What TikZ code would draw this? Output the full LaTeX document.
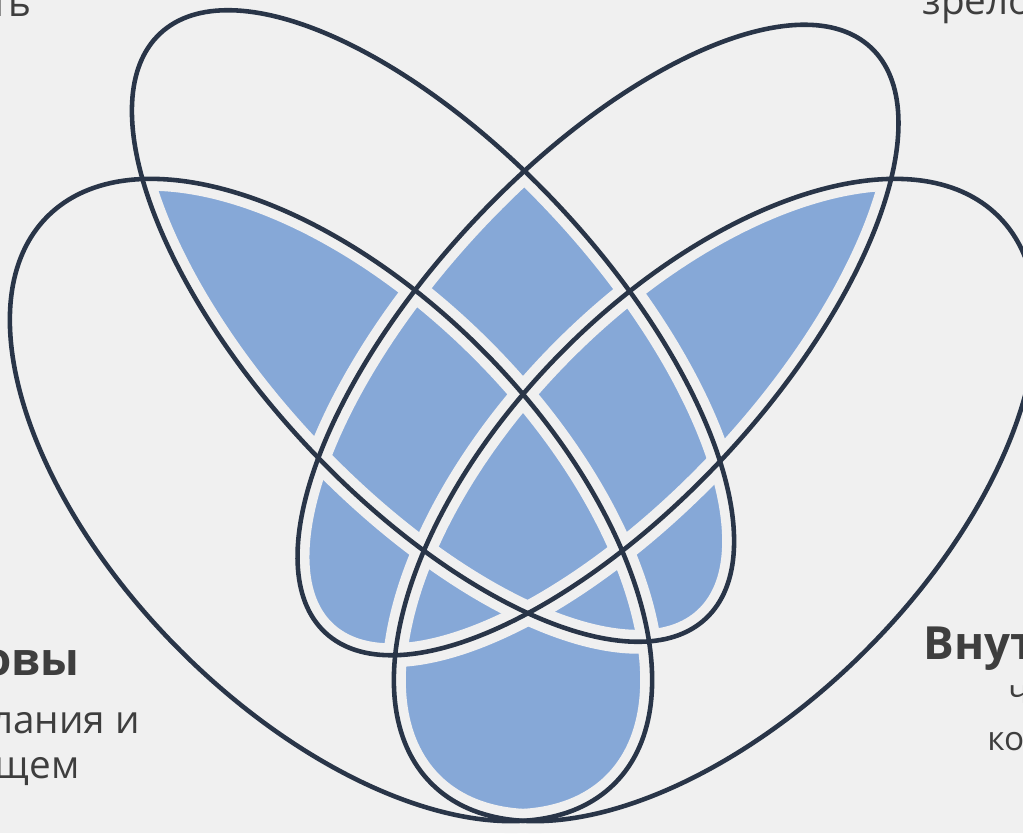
\documentclass[tikz,border=0pt]{standalone}
\usepackage{fontspec}
\setmainfont{Open Sans}
\usepackage{tikz}
\definecolor{paper}{RGB}{240,240,240}
\definecolor{petal}{RGB}{134,168,215}
\definecolor{ink}{RGB}{41,53,72}
\definecolor{caption}{RGB}{62,62,62}
\newcommand{\ovalTL}{(433,507) ellipse [x radius=400, y radius=174, rotate=-47]}
\newcommand{\ovalTR}{(598,493) ellipse [x radius=400, y radius=172, rotate=47]}
\newcommand{\ovalL}{(331,333) ellipse [x radius=401, y radius=213, rotate=-45]}
\newcommand{\ovalR}{(715,333) ellipse [x radius=401, y radius=213, rotate=45]}

\begin{document}
\begin{tikzpicture}[
  x=0.02cm, y=0.02cm,
  gap/.style={draw=paper,line width=13.6pt},
  rim/.style={draw=ink,line width=2.6pt},
  label/.style={inner sep=0pt,text=caption,font=\fontsize{22}{26}\selectfont},
  small/.style={inner sep=0pt,text=caption,font=\fontsize{19}{23}\selectfont},
  title/.style={inner sep=0pt,text=caption,font=\fontsize{26}{31}\selectfont\bfseries}
]
\useasboundingbox (0,0) rectangle (1023,833);
\fill[paper] (0,0) rectangle (1023,833);
\clip (0,0) rectangle (1023,833);
% overlaps of two or more sets
\begin{scope}\clip \ovalTL; \fill[petal] \ovalTR; \end{scope}
\begin{scope}\clip \ovalTL; \fill[petal] \ovalL; \end{scope}
\begin{scope}\clip \ovalTL; \fill[petal] \ovalR; \end{scope}
\begin{scope}\clip \ovalTR; \fill[petal] \ovalL; \end{scope}
\begin{scope}\clip \ovalTR; \fill[petal] \ovalR; \end{scope}
\begin{scope}\clip \ovalL; \fill[petal] \ovalR; \end{scope}
% gaps, then outlines
\draw[gap] \ovalTL; \draw[gap] \ovalTR; \draw[gap] \ovalL; \draw[gap] \ovalR;
\draw[rim] \ovalTL; \draw[rim] \ovalTR; \draw[rim] \ovalL; \draw[rim] \ovalR;
% cut-off captions
\node[label,anchor=base east] (tl) at (32,816) {ть};
\node[label,anchor=base west] (tr) at (922,818) {зрело};
\node[title,anchor=base east] (lhead) at (80,158) {овы};
\node[label,anchor=base east] (lone) at (140,100) {лания и};
\node[label,anchor=base east] (ltwo) at (80,55) {щем};
\node[title,anchor=base west] (rhead) at (923,174) {Внут};
\node[small,anchor=base west] (rone) at (1008,130) {ч};
\node[small,anchor=base west] (rtwo) at (987,83) {ко};
\end{tikzpicture}
\end{document}
